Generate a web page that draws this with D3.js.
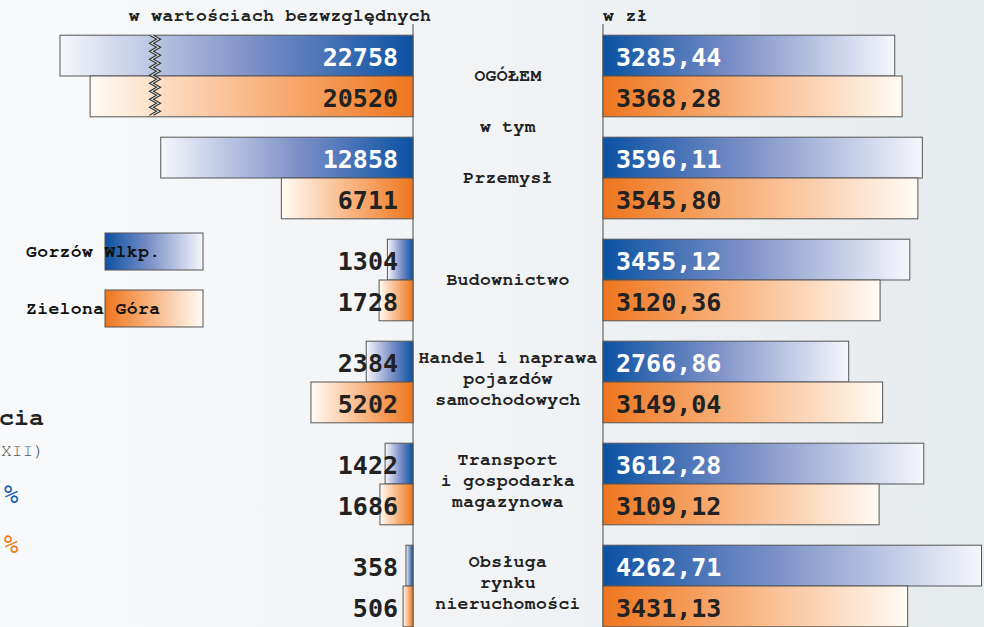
<!DOCTYPE html>
<html>
<head>
<meta charset="utf-8">
<script src="https://cdn.jsdelivr.net/npm/d3@7"></script>
<style>
  body { margin: 0; overflow: hidden; }
  svg { display: block; }
</style>
</head>
<body>
<div id="chart"></div>
<script>
var width = 984, height = 627;

// data
var categories = [
  ["OGÓŁEM"],
  ["Przemysł"],
  ["Budownictwo"],
  ["Handel i naprawa", "pojazdów", "samochodowych"],
  ["Transport", "i gospodarka", "magazynowa"],
  ["Obsługa", "rynku", "nieruchomości"]
]
var series = ["Gorzów Wlkp.", "Zielona Góra"]
var countGorzow = [22758, 12858, 1304, 2384, 1422, 358]
var countZielona = [20520, 6711, 1728, 5202, 1686, 506]
var wageGorzow = [3285.44, 3596.11, 3455.12, 2766.86, 3612.28, 4262.71]
var wageZielona = [3368.28, 3545.80, 3120.36, 3149.04, 3109.12, 3431.13]

var svg = d3.select("#chart").append("svg")
  .attr("width", width)
  .attr("height", height)

var defs = svg.append("defs")

function gradient(id, stops) {
  var g = defs.append("linearGradient").attr("id", id)
    .attr("x1", 0).attr("x2", 1).attr("y1", 0).attr("y2", 0)
  stops.forEach(function(s) {
    g.append("stop").attr("offset", s[0]).attr("stop-color", s[1])
  })
}
var blueStops = [[0, "#0b52a3"], [0.45, "#7b8fc7"], [1, "#f6f7fc"]]
var orangeStops = [[0, "#ee761e"], [0.45, "#f8b17c"], [1, "#fffbf5"]]
gradient("blueR", blueStops)
gradient("blueL", blueStops.map(function(s) { return [1 - s[0], s[1]] }).reverse())
gradient("orangeR", orangeStops)
gradient("orangeL", orangeStops.map(function(s) { return [1 - s[0], s[1]] }).reverse())
gradient("bg", [[0, "#f8f9fa"], [0.5, "#f1f3f5"], [1, "#e6ebee"]])

svg.append("rect").attr("width", width).attr("height", height).attr("fill", "url(#bg)")

var leftX = 413, rightX = 603
var centerX = (leftX + rightX) / 2

// left scale has a break for the totals
var xCount = d3.scaleLinear()
  .domain([0, 13100, 15700, 22758])
  .range([leftX, 156, 155, 60])
var xWage = d3.scaleLinear().domain([0, 1000]).range([rightX, rightX + 88.8])

var y = d3.scaleBand()
  .domain(d3.range(categories.length))
  .range([25, 637])
  .paddingInner(0.2)
  .paddingOuter(0.1)
var ySub = d3.scaleBand().domain([0, 1]).range([0, y.bandwidth()])

var rows = []
categories.forEach(function(c, i) {
  rows.push({i: i, s: 0, count: countGorzow[i], wage: wageGorzow[i]})
  rows.push({i: i, s: 1, count: countZielona[i], wage: wageZielona[i]})
})

var fmtWage = function(v) { return d3.format(".2f")(v).replace(".", ",") }

var labelFont = "'Nimbus Mono PS', 'Nimbus Mono L', FreeMono, 'Courier New', Courier, 'Liberation Mono', monospace"
var valueFont = "'DejaVu Sans Mono', monospace"

// header texts
svg.append("text").attr("x", 280).attr("y", 21)
  .attr("text-anchor", "middle")
  .style("font", "bold 18px " + labelFont).style("letter-spacing", "0.4px").attr("fill", "#222")
  .text("w wartościach bezwzględnych")
svg.append("text").attr("x", 603).attr("y", 21)
  .style("font", "bold 18px " + labelFont).style("letter-spacing", "0.4px").attr("fill", "#222")
  .text("w zł")

// axis lines
svg.append("line").attr("x1", leftX).attr("x2", leftX).attr("y1", 24).attr("y2", height)
  .attr("stroke", "#666").attr("stroke-width", 1.2)
svg.append("line").attr("x1", rightX).attr("x2", rightX).attr("y1", 24).attr("y2", height)
  .attr("stroke", "#666").attr("stroke-width", 1.2)

// left bars
var leftG = svg.append("g")
leftG.selectAll("rect")
  .data(rows)
  .enter().append("rect")
  .attr("x", function(d) { return xCount(d.count) })
  .attr("y", function(d) { return y(d.i) + ySub(d.s) })
  .attr("width", function(d) { return leftX - xCount(d.count) })
  .attr("height", ySub.bandwidth())
  .attr("fill", function(d) { return d.s == 0 ? "url(#blueL)" : "url(#orangeL)" })
  .attr("stroke", "#555")
  .attr("stroke-width", 1)

// zigzag break across the totals
var breakX = 155
var zy0 = y(0), zy1 = y(0) + y.bandwidth()
var zig = []
for (var t = zy0, k = 0; t <= zy1 + 0.1; t += 4, k++) {
  zig.push([breakX + (k % 2 ? 3.5 : -3.5), t])
}
var zigLeft = zig.map(function(p) { return [p[0] - 2, p[1]] })
var zigRight = zig.map(function(p) { return [p[0] + 2, p[1]] })
var line = d3.line()
svg.append("path")
  .attr("d", line(zigLeft.concat(zigRight.slice().reverse())) + "Z")
  .attr("fill", "#fafbfb")
svg.append("path").attr("d", line(zigLeft)).attr("fill", "none").attr("stroke", "#333").attr("stroke-width", 1.2)
svg.append("path").attr("d", line(zigRight)).attr("fill", "none").attr("stroke", "#333").attr("stroke-width", 1.2)

leftG.selectAll("text")
  .data(rows)
  .enter().append("text")
  .attr("x", 398)
  .attr("y", function(d) { return y(d.i) + ySub(d.s) + 31 })
  .attr("text-anchor", "end")
  .style("font", "bold 25px " + valueFont)
  .attr("fill", function(d) { return d.s == 0 && leftX - xCount(d.count) > 150 ? "#fff" : "#222" })
  .text(function(d) { return d.count })

// right bars
var rightG = svg.append("g")
rightG.selectAll("rect")
  .data(rows)
  .enter().append("rect")
  .attr("x", rightX)
  .attr("y", function(d) { return y(d.i) + ySub(d.s) })
  .attr("width", function(d) { return xWage(d.wage) - rightX })
  .attr("height", ySub.bandwidth())
  .attr("fill", function(d) { return d.s == 0 ? "url(#blueR)" : "url(#orangeR)" })
  .attr("stroke", "#555")
  .attr("stroke-width", 1)

rightG.selectAll("text")
  .data(rows)
  .enter().append("text")
  .attr("x", 616)
  .attr("y", function(d) { return y(d.i) + ySub(d.s) + 31 })
  .style("font", "bold 25px " + valueFont)
  .attr("fill", function(d) { return d.s == 0 ? "#fff" : "#222" })
  .text(function(d) { return fmtWage(d.wage) })

// category labels
var catG = svg.append("g")
categories.forEach(function(lines, i) {
  var mid = y(i) + y.bandwidth() / 2 + (lines.length > 1 ? -3 : 0)
  lines.forEach(function(l, j) {
    catG.append("text")
      .attr("x", centerX)
      .attr("y", mid + (j - (lines.length - 1) / 2) * 21 + 5)
      .attr("text-anchor", "middle")
      .style("font", "bold 18px " + labelFont).style("letter-spacing", "0.4px")
      .attr("fill", "#222")
      .text(l)
  })
})
catG.append("text")
  .attr("x", centerX)
  .attr("y", (y(0) + y.bandwidth() + y(1)) / 2 + 5)
  .attr("text-anchor", "middle")
  .style("font", "bold 18px " + labelFont).style("letter-spacing", "0.4px")
  .attr("fill", "#222")
  .text("w tym")

// legend
var legend = svg.append("g")
series.forEach(function(s, i) {
  var ly = 233 + i * 57
  legend.append("rect")
    .attr("x", 105).attr("y", ly).attr("width", 98).attr("height", 37)
    .attr("fill", i == 0 ? "url(#blueR)" : "url(#orangeR)")
    .attr("stroke", "#555")
  legend.append("text")
    .attr("x", 26).attr("y", ly + 24)
    .style("font", "bold 18px " + labelFont).style("letter-spacing", "0.4px")
    .attr("fill", "#111")
    .text(s)
})

// fragments of the neighbouring panel at the left edge
svg.append("text").attr("x", 44).attr("y", 425).attr("text-anchor", "end")
  .style("font", "bold 25px " + labelFont).attr("fill", "#222").text("cia")
svg.append("text").attr("x", 1).attr("y", 456)
  .style("font", "18px " + labelFont).attr("fill", "#555").text("XII)")
svg.append("text").attr("x", 4).attr("y", 503)
  .style("font-family", valueFont).style("font-size", "24px")
  .attr("fill", "#1b5fb0").text("%")
svg.append("text").attr("x", 4).attr("y", 553)
  .style("font-family", valueFont).style("font-size", "24px")
  .attr("fill", "#f07a22").text("%")
</script>
</body>
</html>
